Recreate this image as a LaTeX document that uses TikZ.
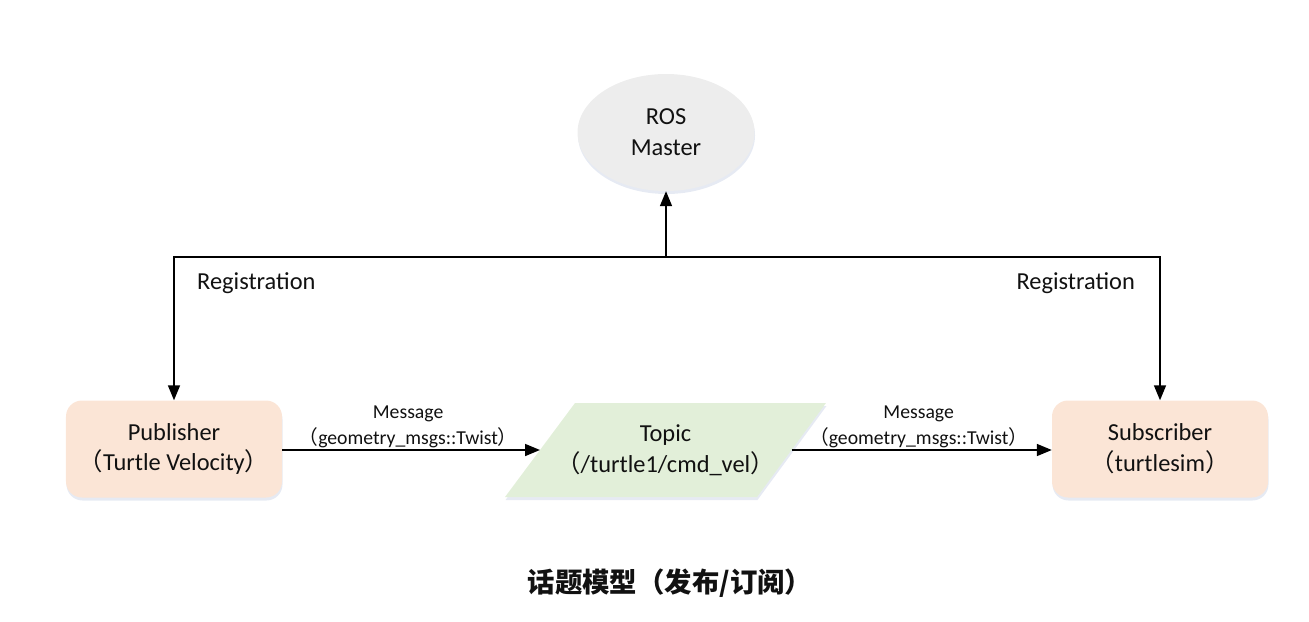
\documentclass[tikz,border=0pt]{standalone}
\usepackage{fontspec}
\setmainfont{Carlito}
\newfontfamily\cjk{Noto Sans CJK SC}
\usetikzlibrary{arrows.meta,shapes.geometric,shadows,calc}
\newcommand\lpar{{\cjk （}}
\newcommand\rpar{{\cjk ）}}
\definecolor{txt}{HTML}{111111}
\definecolor{peach}{HTML}{FBE5D6}
\definecolor{sage}{HTML}{E2EFD9}
\definecolor{mastergray}{HTML}{EDEDED}
\definecolor{shadowc}{HTML}{B8C4DC}
\tikzset{
  boxshadow/.style={drop shadow={shadow xshift=0.5bp, shadow yshift=-3bp, opacity=0.35, fill=shadowc}},
  main/.style={font=\fontsize{24.5}{31}\selectfont, text=txt, align=center},
  small/.style={font=\fontsize{19.8}{26}\selectfont, text=txt, align=center},
  nodebox/.style={main, rectangle, rounded corners=16bp, fill=peach, minimum width=216bp, minimum height=97bp, inner sep=0pt, boxshadow},
  arr/.style={line width=1.6bp, draw=black, -{Triangle[length=15bp,width=12bp]}},
}
\begin{document}
\begin{tikzpicture}[x=1bp,y=-1bp]
\useasboundingbox (0,0) rectangle (1309,622);
% nodes
\node[main, ellipse, fill=mastergray, minimum width=177bp, minimum height=117bp, inner sep=0pt, boxshadow] (master) at (666,132.5) {ROS\\Master};
\node[nodebox] (pub) at (174,449) {Publisher\\\lpar Turtle Velocity\rpar};
\node[nodebox] (sub) at (1160,449) {Subscriber\\\lpar turtlesim\rpar};
% topic parallelogram
\coordinate (tbl) at (505,497);
\coordinate (ttl) at (575,403);
\coordinate (ttr) at (826,403);
\coordinate (tbr) at (757,497);
\fill[sage, boxshadow] (tbl) -- (ttl) -- (ttr) -- (tbr) -- cycle;
\node[main, inner sep=0pt] (topic) at (665.5,450) {Topic\\\lpar/turtle1/cmd\_vel\rpar};
\coordinate (tin) at ($(tbl)!0.5!(ttl)$);
\coordinate (tout) at ($(tbr)!0.5!(ttr)$);
% registration
\coordinate (jc) at (666,257);
\draw[arr] (jc) -- (master);
\draw[arr] (jc) -| (pub.north);
\draw[arr] (jc) -| (sub.north);
\coordinate (jl) at (pub.north |- jc);
\coordinate (jr) at (sub.north |- jc);
\node[main, anchor=west, inner sep=0pt] (regl) at ([xshift=23bp,yshift=-26bp]jl) {Registration};
\node[main, anchor=east, inner sep=0pt] (regr) at ([xshift=-25bp,yshift=-26bp]jr) {Registration};
% messages
\draw[arr] (pub.east |- tin) -- node[small, above, inner sep=1.5bp, xshift=-3bp] (msgl) {Message\\\lpar geometry\_msgs::Twist\rpar} (tin);
\draw[arr] (tout) -- node[small, above, inner sep=1.5bp, xshift=-3bp] (msgr) {Message\\\lpar geometry\_msgs::Twist\rpar} (sub.west |- tout);
% title
\node[font=\cjk\bfseries\fontsize{27.5}{31}\selectfont, text=txt] (title) at (670,583) {话题模型（发布/订阅）};
\end{tikzpicture}
\end{document}
